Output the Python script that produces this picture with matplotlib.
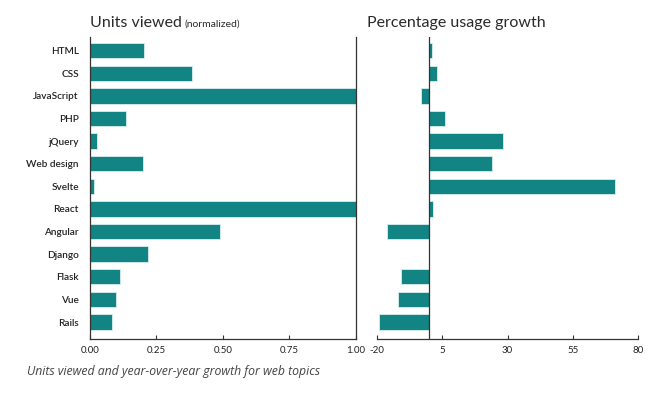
import matplotlib.pyplot as plt
import numpy as np

plt.rcParams['font.family'] = ['Lato', 'DejaVu Sans']

topics = ["HTML", "CSS", "JavaScript", "PHP", "jQuery", "Web design", "Svelte",
          "React", "Angular", "Django", "Flask", "Vue", "Rails"]
units_viewed = [0.204, 0.382, 1.0, 0.135, 0.028, 0.200, 0.015,
                1.0, 0.488, 0.219, 0.112, 0.099, 0.084]
usage_growth = [1.3, 3.2, -3.1, 6.2, 28.2, 24.2, 71.0,
                1.4, -16.1, 0.0, -10.8, -11.7, -19.1]
left_ticks = [0.0, 0.25, 0.5, 0.75, 1.0]
right_ticks = [-20, 5, 30, 55, 80]

teal = "#128484"
dark = "#333333"


def plot_chart():
    fig = plt.figure(figsize=(6.65, 3.94), dpi=100)
    ax1 = fig.add_axes([0.1353, 0.1396, 0.4, 0.7664])
    ax2 = fig.add_axes([0.5665, 0.1396, 0.3935, 0.7664])

    y = np.arange(len(topics))

    # left panel
    ax1.barh(y, units_viewed, height=0.68, color=teal, edgecolor="#d8eeee", linewidth=0.6)
    ax1.set_xlim(0, 1)
    ax1.set_ylim(12.75, -0.6)
    ax1.set_yticks(y)
    ax1.set_yticklabels(topics, fontsize=7.2, fontweight="semibold", color="#222222")
    ax1.set_xticks(left_ticks)
    ax1.set_xticklabels(["%.2f" % t for t in left_ticks], fontsize=7, color="#222222")
    ax1.spines["top"].set_visible(False)
    for s in ["left", "right", "bottom"]:
        ax1.spines[s].set_color(dark)
        ax1.spines[s].set_linewidth(0.9)
    ax1.tick_params(axis="y", length=0, pad=8)
    ax1.tick_params(axis="x", direction="in", length=3, color=dark, pad=5)

    # right panel
    ax2.barh(y, usage_growth, height=0.68, color=teal, edgecolor="#d8eeee", linewidth=0.6)
    ax2.axvline(0, color=dark, linewidth=0.9)
    ax2.set_xlim(-20, 80)
    ax2.set_ylim(12.75, -0.6)
    ax2.set_yticks([])
    ax2.set_xticks(right_ticks)
    ax2.set_xticklabels([str(t) for t in right_ticks], fontsize=7, color="#222222")
    for s in ["top", "left", "right"]:
        ax2.spines[s].set_visible(False)
    ax2.spines["bottom"].set_color(dark)
    ax2.spines["bottom"].set_linewidth(0.9)
    ax2.tick_params(axis="x", direction="in", length=3, color=dark, pad=5)

    # titles
    t1 = fig.text(90 / 665, 1 - 27 / 394, "Units viewed", fontsize=11.5,
                  fontweight="normal", color="#2a2a2a")
    fig.canvas.draw()
    bb = t1.get_window_extent()
    fig.text((bb.x1 + 3) / 665, 1 - 27 / 394, "(normalized)", fontsize=7.5,
             fontweight="normal", color="#2a2a2a")
    fig.text(367 / 665, 1 - 27 / 394, "Percentage usage growth", fontsize=11.5,
             fontweight="normal", color="#2a2a2a")

    # caption
    fig.text(27 / 665, 1 - 375 / 394,
             "Units viewed and year-over-year growth for web topics",
             fontsize=8.8, style="italic", color="#444444", family="Open Sans")

    fig.savefig("out.png", dpi=100)


if __name__ == '__main__':
    plot_chart()
